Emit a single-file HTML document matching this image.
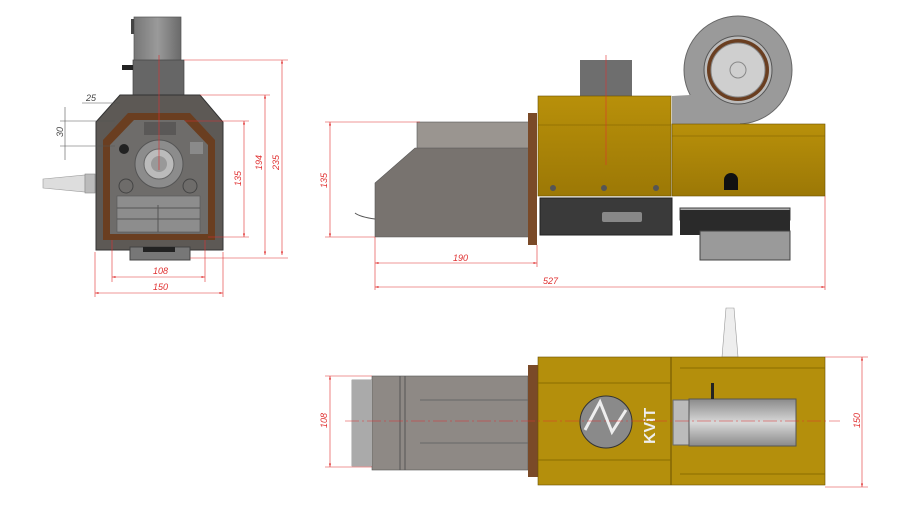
<!DOCTYPE html>
<html><head><meta charset="utf-8"><style>
html,body{margin:0;padding:0;background:#fff;}
svg{display:block}
text{font-family:"Liberation Sans",sans-serif;font-style:italic;fill:#e03030;font-size:9px}
</style></head><body>
<svg width="900" height="521" viewBox="0 0 900 521" xmlns="http://www.w3.org/2000/svg">
<defs>
<linearGradient id="yl" x1="0" y1="0" x2="0" y2="1"><stop offset="0" stop-color="#b8900a"/><stop offset="1" stop-color="#9c7806"/></linearGradient>
<linearGradient id="gr" x1="0" y1="0" x2="1" y2="0"><stop offset="0" stop-color="#777"/><stop offset=".5" stop-color="#9a9a9a"/><stop offset="1" stop-color="#6a6a6a"/></linearGradient>
<linearGradient id="dr" x1="0" y1="0" x2="0" y2="1"><stop offset="0" stop-color="#8a8a8a"/><stop offset=".5" stop-color="#d8d8d8"/><stop offset="1" stop-color="#8a8a8a"/></linearGradient>
<marker id="a" viewBox="0 0 10 10" refX="10" refY="5" markerWidth="6" markerHeight="6" orient="auto-start-reverse"><path d="M0,2 L10,5 L0,8z" fill="#e03030"/></marker>
</defs>

<!-- FRONT VIEW -->
<rect x="134" y="17" width="47" height="44" fill="url(#gr)" stroke="#555" stroke-width=".7"/>
<rect x="133" y="60" width="51" height="36" fill="#666" stroke="#444" stroke-width=".7"/>
<rect x="122" y="65" width="11" height="5" fill="#222"/>
<rect x="131" y="19" width="3" height="15" fill="#444"/>
<polygon points="120,95 200,95 223,122 223,250 96,250 96,122" fill="#5d5955" stroke="#333"/>
<polygon points="128,113 190,113 215,140 215,240 103,240 103,140" fill="#6a3e20"/>
<polygon points="134,120 184,120 208,145 208,234 110,234 110,145" fill="#6e6c6a"/>
<rect x="144" y="122" width="32" height="13" fill="#5a5857"/>
<rect x="190" y="142" width="13" height="12" fill="#8a8a8a"/>
<circle cx="124" cy="149" r="5" fill="#222"/>
<circle cx="159" cy="164" r="24" fill="#8c8c8c" stroke="#555"/>
<circle cx="159" cy="164" r="15" fill="#bbb" stroke="#666"/>
<circle cx="159" cy="164" r="8" fill="#999"/>
<circle cx="126" cy="186" r="7" fill="none" stroke="#444"/>
<circle cx="190" cy="186" r="7" fill="none" stroke="#444"/>
<rect x="117" y="196" width="83" height="36" fill="#8d8d8d" stroke="#555" stroke-width=".6"/>
<line x1="117" y1="208" x2="200" y2="208" stroke="#555"/>
<line x1="117" y1="219" x2="200" y2="219" stroke="#555"/>
<line x1="158" y1="205" x2="158" y2="232" stroke="#555"/>
<rect x="130" y="247" width="60" height="13" fill="#777" stroke="#444"/>
<rect x="143" y="247" width="32" height="5" fill="#222"/>
<polygon points="43,179 85,175 85,192 43,188" fill="#ddd" stroke="#999" stroke-width=".6"/>
<rect x="85" y="174" width="10" height="19" fill="#bbb" stroke="#888" stroke-width=".6"/>
<g stroke="#e03030" stroke-width=".6" fill="none">
<line x1="159" y1="55" x2="159" y2="170"/>
<line x1="184" y1="60" x2="288" y2="60"/><line x1="282" y1="60" x2="282" y2="255" marker-start="url(#a)" marker-end="url(#a)"/>
<line x1="200" y1="95" x2="270" y2="95"/><line x1="265" y1="95" x2="265" y2="255" marker-start="url(#a)" marker-end="url(#a)"/>
<line x1="185" y1="121" x2="249" y2="121"/><line x1="208" y1="237" x2="249" y2="237"/><line x1="244" y1="121" x2="244" y2="237" marker-start="url(#a)" marker-end="url(#a)"/>
<line x1="190" y1="258" x2="288" y2="258"/>
<line x1="112" y1="240" x2="112" y2="282"/><line x1="205" y1="240" x2="205" y2="282"/><line x1="112" y1="277" x2="205" y2="277" marker-start="url(#a)" marker-end="url(#a)"/>
<line x1="95" y1="252" x2="95" y2="297"/><line x1="223" y1="252" x2="223" y2="297"/><line x1="95" y1="293" x2="223" y2="293" marker-start="url(#a)" marker-end="url(#a)"/>
</g>
<g stroke="#555" stroke-width=".6"><line x1="82" y1="103" x2="120" y2="103"/><line x1="60" y1="121" x2="115" y2="121"/><line x1="60" y1="146" x2="115" y2="146"/><line x1="65" y1="107" x2="65" y2="160"/></g>
<text x="86" y="101" style="fill:#444">25</text>
<text transform="translate(63,137) rotate(-90)" style="fill:#444">30</text>
<text transform="translate(241,186) rotate(-90)">135</text>
<text transform="translate(262,170) rotate(-90)">194</text>
<text transform="translate(279,170) rotate(-90)">235</text>
<text x="153" y="274">108</text>
<text x="153" y="290">150</text>

<!-- SIDE VIEW -->
<circle cx="738" cy="70" r="54" fill="#9a9a9a" stroke="#666"/>
<polygon points="690,95 740,95 740,124 672,124 672,96" fill="#9a9a9a"/>
<circle cx="738" cy="70" r="34" fill="#bbb" stroke="#555"/>
<circle cx="738" cy="70" r="31" fill="#6a3e20"/>
<circle cx="738" cy="70" r="27" fill="#cfcfcf" stroke="#888"/>
<circle cx="738" cy="70" r="8" fill="none" stroke="#888"/>
<rect x="580" y="60" width="52" height="36" fill="#6e6e6e"/>
<rect x="417" y="122" width="113" height="27" fill="#9a9590" stroke="#555" stroke-width=".6"/>
<polygon points="415,148 530,148 530,237 375,237 375,183" fill="#78736f" stroke="#555" stroke-width=".6"/>
<path d="M355,213 Q360,217 375,219" stroke="#555" fill="none"/>
<rect x="528" y="113" width="9" height="132" fill="#7a4a28"/>
<rect x="538" y="96" width="133" height="100" fill="url(#yl)" stroke="#6a5000" stroke-width=".6"/>
<line x1="538" y1="125" x2="671" y2="125" stroke="#7a5c00" stroke-width=".6"/>
<rect x="672" y="124" width="153" height="72" fill="url(#yl)" stroke="#6a5000" stroke-width=".6"/>
<line x1="672" y1="136" x2="825" y2="136" stroke="#7a5c00" stroke-width=".6"/>
<path d="M724,190 v-10 a7,7 0 0 1 14,0 v10z" fill="#111"/>
<circle cx="553" cy="188" r="3" fill="#555"/><circle cx="604" cy="188" r="3" fill="#555"/><circle cx="656" cy="188" r="3" fill="#555"/>
<rect x="540" y="198" width="132" height="37" fill="#3a3a3a" stroke="#222"/>
<rect x="602" y="212" width="40" height="10" fill="#888" rx="2"/>
<rect x="680" y="208" width="110" height="12" fill="#aaa" stroke="#444"/>
<rect x="680" y="210" width="110" height="25" fill="#2a2a2a"/>
<rect x="700" y="231" width="90" height="29" fill="#9a9a9a" stroke="#444"/>
<g stroke="#e03030" stroke-width=".6" fill="none">
<line x1="606" y1="55" x2="606" y2="165"/>
<line x1="325" y1="122" x2="420" y2="122"/><line x1="325" y1="237" x2="375" y2="237"/><line x1="330" y1="122" x2="330" y2="237" marker-start="url(#a)" marker-end="url(#a)"/>
<line x1="375" y1="237" x2="375" y2="290"/><line x1="537" y1="245" x2="537" y2="267"/><line x1="825" y1="196" x2="825" y2="290"/>
<line x1="375" y1="263" x2="537" y2="263" marker-start="url(#a)" marker-end="url(#a)"/><line x1="375" y1="287" x2="825" y2="287" marker-start="url(#a)" marker-end="url(#a)"/>
</g>
<text transform="translate(327,188) rotate(-90)">135</text>
<text x="453" y="261">190</text>
<text x="543" y="284">527</text>

<!-- TOP VIEW -->
<polygon points="722,357 726,308 734,308 738,357" fill="#eee" stroke="#999" stroke-width=".6"/>
<rect x="352" y="380" width="176" height="86" fill="#999490" stroke="#666" stroke-width=".6"/>
<rect x="372" y="376" width="156" height="94" fill="#8e8985" stroke="#555" stroke-width=".6"/>
<rect x="352" y="380" width="20" height="86" fill="#aaa"/>
<line x1="400" y1="376" x2="400" y2="470" stroke="#555"/>
<line x1="405" y1="376" x2="405" y2="470" stroke="#555"/>
<line x1="420" y1="400" x2="528" y2="400" stroke="#666"/><line x1="420" y1="443" x2="528" y2="443" stroke="#666"/>
<rect x="528" y="365" width="10" height="112" fill="#7a4a28"/>
<rect x="538" y="357" width="287" height="128" fill="#b48f0c" stroke="#6a5000" stroke-width=".6"/>
<line x1="671" y1="357" x2="671" y2="485" stroke="#6a5000"/>
<line x1="538" y1="383" x2="671" y2="383" stroke="#8a6c00"/><line x1="538" y1="460" x2="671" y2="460" stroke="#8a6c00"/>
<line x1="680" y1="368" x2="825" y2="368" stroke="#8a6c00"/><line x1="680" y1="474" x2="825" y2="474" stroke="#8a6c00"/>
<circle cx="606" cy="422" r="26" fill="#8a8a8a" stroke="#333"/>
<path d="M585,430 L600,402 L612,432 L626,410" fill="none" stroke="#eee" stroke-width="3"/>
<text transform="translate(655,444) rotate(-90)" style="fill:#eee;font-style:normal;font-weight:bold;font-size:16px">KViT</text>
<rect x="673" y="400" width="16" height="45" fill="#bbb" stroke="#666"/>
<rect x="689" y="399" width="107" height="47" fill="url(#dr)" stroke="#555"/>
<rect x="711" y="383" width="3" height="16" fill="#222"/>
<g stroke="#e03030" stroke-width=".6" fill="none">
<line x1="345" y1="421" x2="840" y2="421" stroke-dasharray="14,3,2,3"/>
<line x1="325" y1="376" x2="372" y2="376"/><line x1="325" y1="467" x2="372" y2="467"/><line x1="330" y1="376" x2="330" y2="467" marker-start="url(#a)" marker-end="url(#a)"/>
<line x1="825" y1="357" x2="868" y2="357"/><line x1="825" y1="487" x2="868" y2="487"/><line x1="862" y1="357" x2="862" y2="487" marker-start="url(#a)" marker-end="url(#a)"/>
</g>
<text transform="translate(327,428) rotate(-90)">108</text>
<text transform="translate(860,428) rotate(-90)">150</text>
</svg>
</body></html>
